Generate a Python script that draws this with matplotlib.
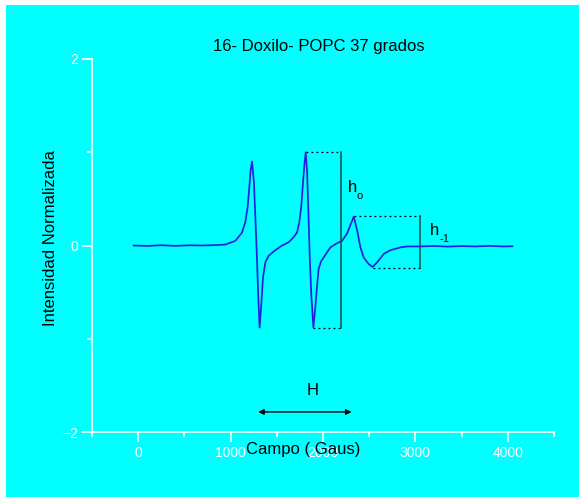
import matplotlib
matplotlib.use('Agg')
import matplotlib.pyplot as plt
from matplotlib.patches import Rectangle

plt.rcParams['font.family'] = ['Liberation Sans', 'DejaVu Sans']

# spectrum (field in Gauss, normalized intensity)
campo = [-50, 100, 250, 400, 550, 700, 850, 943, 1051, 1124, 1159, 1184, 1203, 1217, 1232,
         1253, 1268, 1282, 1297, 1314, 1333, 1351, 1376, 1412, 1484, 1557, 1628, 1683,
         1719, 1744, 1766, 1784, 1798, 1813, 1828, 1842, 1856, 1874, 1896, 1918, 1936,
         1953, 1979, 2026, 2080, 2153, 2207, 2261, 2297, 2333, 2370, 2405, 2441, 2495,
         2538, 2586, 2658, 2730, 2839, 2911, 3055, 3200, 3350, 3500, 3650, 3800, 3950, 4052]
intensidad = [0.0, -0.005, 0.003, -0.004, 0.002, 0.0, 0.005, 0.01, 0.05, 0.14, 0.25, 0.41, 0.63,
              0.81, 0.90, 0.67, 0.30, -0.05, -0.48, -0.88, -0.62, -0.34, -0.18, -0.11, -0.05,
              0.0, 0.035, 0.09, 0.14, 0.25, 0.43, 0.68, 0.86, 1.00, 0.79, 0.36, -0.11, -0.54,
              -0.88, -0.65, -0.43, -0.25, -0.17, -0.10, -0.02, 0.025, 0.05, 0.13, 0.22, 0.31,
              0.16, -0.02, -0.13, -0.20, -0.23, -0.18, -0.09, -0.05, -0.02, -0.01, -0.01,
              -0.005, -0.012, -0.006, -0.01, -0.004, -0.01, -0.008]

# measurement marks
h0_x, h0_top, h0_bot = 2199, 1.00, -0.88
h0_top_from, h0_bot_from = 1813, 1896
h1_x, h1_top, h1_bot = 3055, 0.32, -0.24
h1_top_from, h1_bot_from = 2333, 2538
H_from, H_to, H_y = 1268, 2340, -1.785

fig = plt.figure(figsize=(5.79, 4.97), dpi=100, facecolor='white')
fig.patches.append(Rectangle((6 / 579, 0), 1, 1 - 5 / 497, transform=fig.transFigure,
                             facecolor='#00ffff', edgecolor='none', zorder=-10))
ax = fig.add_axes([92 / 579, 1 - 432 / 497, 462 / 579, 373 / 497])
ax.set_facecolor('none')

ax.plot(campo, intensidad, color='#2222dd', lw=1.25)

mark = '#1e4a4a'
dots = (0, (1.5, 2.5))
ax.plot([h0_x, h0_x], [h0_bot, h0_top], color=mark, lw=1.1)
ax.plot([h0_top_from, h0_x], [h0_top, h0_top], color='black', lw=0.9, ls=dots)
ax.plot([h0_bot_from, h0_x], [h0_bot, h0_bot], color='black', lw=0.9, ls=dots)
ax.plot([h1_x, h1_x], [h1_bot, h1_top], color=mark, lw=1.1)
ax.plot([h1_top_from, h1_x], [h1_top, h1_top], color='black', lw=0.9, ls=dots)
ax.plot([h1_bot_from, h1_x], [h1_bot, h1_bot], color='black', lw=0.9, ls=dots)

ax.text(2265, 0.62, 'h', fontsize=12, ha='left', va='center')
ax.text(2365, 0.53, 'o', fontsize=8, ha='left', va='center')
ax.text(3160, 0.16, 'h', fontsize=12, ha='left', va='center')
ax.text(3260, 0.07, '-1', fontsize=8, ha='left', va='center')
ax.text(1885, -1.56, 'H', fontsize=12, ha='center', va='center')
ax.annotate('', xy=(H_from, H_y), xytext=(H_to, H_y),
            arrowprops=dict(arrowstyle='<|-|>', color='black', lw=1, mutation_scale=8))

ax.set_xlim(-500, 4500)
ax.set_ylim(-2, 2)
ax.set_xticks([0, 1000, 2000, 3000, 4000])
ax.set_xticks([-500, 500, 1500, 2500, 3500, 4500], minor=True)
ax.set_yticks([-2, 0, 2])
ax.set_yticks([-1, 1], minor=True)
for s in ['top', 'right']:
    ax.spines[s].set_visible(False)
for s in ['left', 'bottom']:
    ax.spines[s].set_color('white')
    ax.spines[s].set_linewidth(1.2)
ax.tick_params(which='both', colors='white', width=1.2, labelsize=10, pad=3)
ax.tick_params(which='major', length=7)
ax.tick_params(which='minor', length=3.5)

ax.text(0.458, -0.046, 'Campo ( Gaus)', transform=ax.transAxes, fontsize=12,
        ha='center', va='center')
ax.text(-0.089, 0.52, 'Intensidad Normalizada', transform=ax.transAxes, fontsize=12,
        ha='center', va='center', rotation=90)
fig.text(319 / 579, 1 - 47 / 497, '16- Doxilo- POPC 37 grados', fontsize=12,
         ha='center', va='center')

fig.savefig('out.png', dpi=100, facecolor=fig.get_facecolor())
